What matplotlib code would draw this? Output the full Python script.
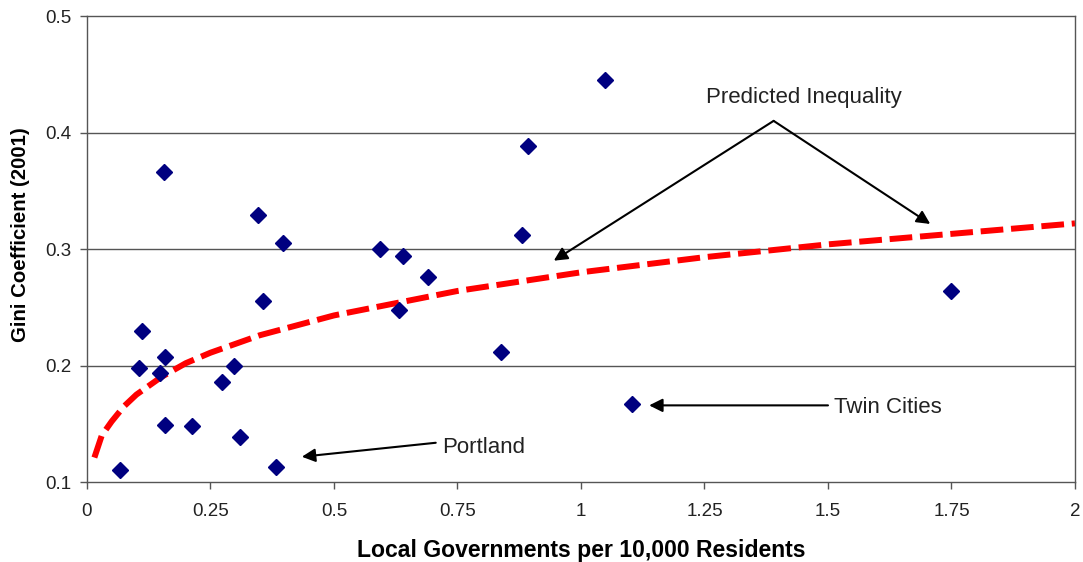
import matplotlib
matplotlib.use('Agg')
import matplotlib.pyplot as plt

plt.rcParams['font.family'] = ['Liberation Sans', 'DejaVu Sans']

# Metro areas: local governments per 10,000 residents vs Gini coefficient (2001)
gov_density = [0.067, 0.1045, 0.111, 0.148, 0.156, 0.158, 0.158, 0.212, 0.274, 0.298,
               0.310, 0.347, 0.356, 0.383, 0.396, 0.594, 0.631, 0.639, 0.691, 0.838,
               0.881, 0.893, 1.049, 1.104, 1.750]
gini = [0.110, 0.198, 0.230, 0.194, 0.366, 0.207, 0.149, 0.148, 0.186, 0.200,
        0.139, 0.329, 0.255, 0.113, 0.305, 0.300, 0.248, 0.294, 0.276, 0.212,
        0.312, 0.388, 0.445, 0.167, 0.264]

# Predicted inequality trend line
trend_x = [0.015, 0.03, 0.05, 0.075, 0.1, 0.15, 0.2, 0.25, 0.35, 0.5, 0.75,
           1.0, 1.25, 1.5, 1.75, 2.0]
trend_y = [0.121, 0.140, 0.152, 0.165, 0.175, 0.190, 0.202, 0.211, 0.226, 0.243, 0.264,
           0.280, 0.293, 0.304, 0.313, 0.322]

x_ticks = [0, 0.25, 0.5, 0.75, 1, 1.25, 1.5, 1.75, 2]
x_tick_labels = ['0', '0.25', '0.5', '0.75', '1', '1.25', '1.5', '1.75', '2']
y_ticks = [0.1, 0.2, 0.3, 0.4, 0.5]
y_tick_labels = ['0.1', '0.2', '0.3', '0.4', '0.5']

fig = plt.figure(figsize=(10.83, 5.62), dpi=100)
ax = fig.add_axes([0.0803, 0.1423, 0.9123, 0.8292])

ax.set_xlim(0, 2)
ax.set_ylim(0.1, 0.5)

# gridlines
for yv in [0.2, 0.3, 0.4]:
    ax.axhline(yv, color='#555555', lw=1.0, zorder=1)

ax.plot(trend_x, trend_y, color='#ff0000', lw=4.3,
        linestyle=(0, (3.8, 1.3)), dash_capstyle='butt', zorder=2)
ax.plot(gov_density, gini, linestyle='none', marker='D', markersize=8.5,
        color='#000080', zorder=3)

ax.set_xticks(x_ticks)
ax.set_xticklabels(x_tick_labels)
ax.set_yticks(y_ticks)
ax.set_yticklabels(y_tick_labels)
ax.tick_params(axis='both', direction='out', length=5, width=1.0, color='#555555',
               labelsize=13.5, labelcolor='#222222')
ax.tick_params(axis='x', pad=10)
ax.tick_params(axis='y', pad=6)
for sp in ax.spines.values():
    sp.set_color('#555555')
    sp.set_linewidth(1.0)

ax.set_xlabel('Local Governments per 10,000 Residents', fontsize=16.6, fontweight='bold')
ax.set_ylabel('Gini Coefficient (2001)', fontsize=14.7, fontweight='bold')
ax.xaxis.set_label_coords(0.5, -0.122)
ax.yaxis.set_label_coords(-0.058, 0.53)

arrow = dict(arrowstyle='-|>', color='black', lw=1.5, mutation_scale=20,
             shrinkA=0, shrinkB=0)

ax.text(1.451, 0.430, 'Predicted Inequality', fontsize=16, ha='center', va='center',
        color='#222222')
ax.annotate('', xy=(0.945, 0.290), xytext=(1.390, 0.410), arrowprops=arrow)
ax.annotate('', xy=(1.707, 0.3215), xytext=(1.390, 0.410), arrowprops=arrow)

ax.text(0.718, 0.130, 'Portland', fontsize=16, ha='left', va='center', color='#222222')
ax.annotate('', xy=(0.435, 0.1217), xytext=(0.706, 0.1337), arrowprops=arrow)

ax.text(1.513, 0.164, 'Twin Cities', fontsize=16, ha='left', va='center', color='#222222')
ax.annotate('', xy=(1.138, 0.1658), xytext=(1.500, 0.1658), arrowprops=arrow)

plt.savefig('out.png', dpi=100, facecolor='white')
plt.close()
